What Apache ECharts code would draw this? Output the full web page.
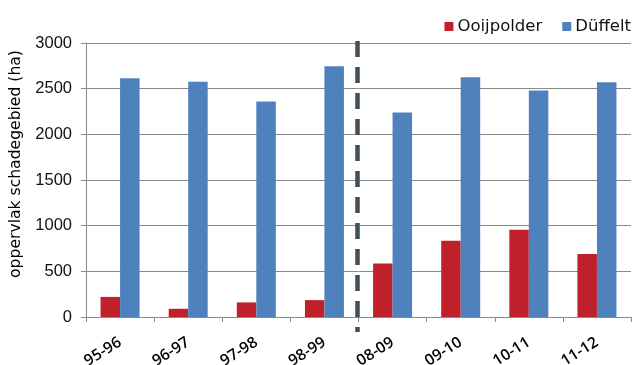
<!DOCTYPE html>
<html>
<head>
<meta charset="utf-8">
<script src="https://cdn.jsdelivr.net/npm/echarts@6/dist/echarts.min.js"></script>
<style>
  html, body { margin: 0; padding: 0; background: #fff; }
  #chart { width: 638px; height: 365px; }
</style>
</head>
<body>
<div id="chart"></div>
<script>
// Seasons (two periods, separated by a dashed divider)
var seasons = ['95-96', '96-97', '97-98', '98-99', '08-09', '09-10', '10-11', '11-12'];
// Damaged area per season, hectares
var ooijpolder = [220, 90, 160, 185, 585, 835, 955, 690];
var duffelt = [2615, 2575, 2360, 2745, 2240, 2625, 2480, 2570];
// Value axis ticks
var yTicks = [0, 500, 1000, 1500, 2000, 2500, 3000];
// Index after which the second period starts
var periodBreak = 4;

var chart = echarts.init(document.getElementById('chart'), null, { renderer: 'canvas' });

var gridColor = '#8a8a8a';

chart.setOption({
  animation: false,
  backgroundColor: '#ffffff',
  legend: {
    right: 2,
    top: 13,
    icon: 'rect',
    itemWidth: 9,
    itemHeight: 9,
    itemGap: 20,
    textStyle: { fontFamily: 'DejaVu Sans', fontSize: 16.5, color: '#111', padding: [0, 0, 0, -1] },
    data: ['Ooijpolder', 'Düffelt']
  },
  grid: { left: 86, right: 7, top: 43, bottom: 48, containLabel: false, outerBoundsMode: 'none' },
  xAxis: {
    type: 'category',
    data: seasons,
    axisLine: { lineStyle: { color: gridColor, width: 1 } },
    axisTick: { show: true, length: 5, lineStyle: { color: gridColor } },
    axisLabel: {
      rotate: 32,
      margin: 24,
      interval: 0,
      fontFamily: 'Open Sans',
      fontWeight: 600,
      fontSize: 15.5,
      color: '#000'
    }
  },
  yAxis: {
    type: 'value',
    min: yTicks[0],
    max: yTicks[yTicks.length - 1],
    interval: 500,
    name: 'oppervlak schadegebied (ha)',
    nameLocation: 'middle',
    nameGap: 62,
    nameTextStyle: { fontFamily: 'DejaVu Sans', fontSize: 15.6, color: '#000', padding: [0, 0, 0, 32] },
    axisLine: { show: true, lineStyle: { color: gridColor, width: 1 } },
    axisTick: { show: true, length: 5, lineStyle: { color: gridColor } },
    splitLine: { lineStyle: { color: gridColor, width: 1 } },
    axisLabel: {
      margin: 14,
      fontFamily: 'Liberation Sans',
      fontSize: 16.5,
      color: '#111',
      formatter: function (v) { return String(v); }
    }
  },
  series: [
    {
      name: 'Ooijpolder',
      type: 'bar',
      data: ooijpolder,
      barWidth: 19.5,
      barGap: '0%',
      itemStyle: { color: '#c0202a' }
    },
    {
      name: 'Düffelt',
      type: 'bar',
      data: duffelt,
      barWidth: 19.5,
      barGap: '0%',
      itemStyle: { color: '#4f81bd' }
    }
  ]
});

// Dashed divider between the two periods, placed on the category boundary
function drawDivider() {
  var left = chart.convertToPixel({ xAxisIndex: 0 }, seasons[periodBreak - 1]);
  var right = chart.convertToPixel({ xAxisIndex: 0 }, seasons[periodBreak]);
  var x = (left + right) / 2 - 1;
  var top = chart.convertToPixel({ yAxisIndex: 0 }, yTicks[yTicks.length - 1]);
  var bottom = chart.convertToPixel({ yAxisIndex: 0 }, yTicks[0]);
  chart.setOption({
    graphic: [{
      type: 'line',
      z: 10,
      shape: { x1: x, y1: top - 2, x2: x, y2: bottom + 15 },
      style: { stroke: '#414f58', lineWidth: 4.5, lineDash: [16, 10] }
    }]
  });
}
drawDivider();
</script>
</body>
</html>
